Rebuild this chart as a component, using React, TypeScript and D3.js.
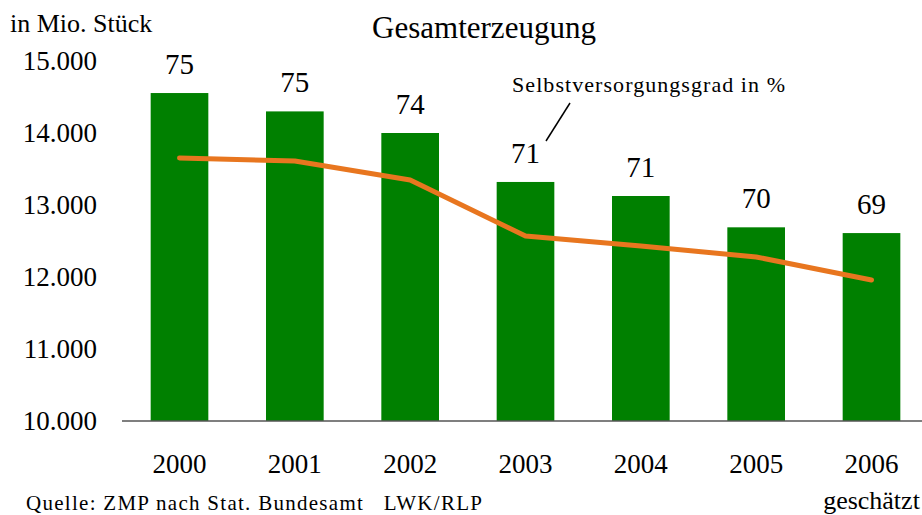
import * as d3 from "d3";

// Daten
const years = ["2000", "2001", "2002", "2003", "2004", "2005", "2006"];
const production = [14555, 14300, 14000, 13320, 13125, 12690, 12610]; // in Mio. Stück
const selfSufficiency = [75.15, 75.0, 74.05, 71.25, 70.75, 70.2, 69.05]; // in %
const yTicks = [10000, 11000, 12000, 13000, 14000, 15000];

const W = 922;
const H = 515;
const FONT = "'Liberation Serif', 'Times New Roman', serif";

export default function App() {
  const x = d3.scaleBand<string>().domain(years).range([93, 958]).padding(0.5);
  const y = d3.scaleLinear().domain([10000, 15000]).range([421, 61]);
  // versteckte Sekundärachse für den Selbstversorgungsgrad
  const y2 = d3.scaleLinear().domain([62, 80]).range([421, 61]);

  const fmt = (v: number) => d3.format(",")(v).replace(/,/g, ".");
  const cx = (d: string) => (x(d) || 0) + x.bandwidth() / 2;

  const line = d3
    .line<number>()
    .x((_, i) => cx(years[i]))
    .y((d) => y2(d));

  return (
    <svg
      width={W}
      height={H}
      style={{ position: "absolute", left: 0, top: 0, background: "#fff" }}
      fontFamily={FONT}
    >
      <text x={10} y={32} fontSize={26} fill="#000">
        in Mio. Stück
      </text>
      <text x={484} y={38} fontSize={31} textAnchor="middle" fill="#000">
        Gesamterzeugung
      </text>

      {/* Y-Achse Beschriftung */}
      {yTicks.map((t) => (
        <text
          key={t}
          x={97}
          y={y(t)}
          dy="0.35em"
          fontSize={27}
          textAnchor="end"
          fill="#000"
        >
          {fmt(t)}
        </text>
      ))}

      {/* Balken */}
      {years.map((yr, i) => (
        <rect
          key={yr}
          x={x(yr)}
          y={y(production[i])}
          width={x.bandwidth()}
          height={y(10000) - y(production[i])}
          fill="#008000"
        />
      ))}

      {/* X-Achse */}
      <line x1={122} x2={W} y1={y(10000)} y2={y(10000)} stroke="#555" strokeWidth={1.5} />
      {years.map((yr) => (
        <text key={yr} x={cx(yr)} y={473} fontSize={27} textAnchor="middle" fill="#000">
          {yr}
        </text>
      ))}
      <text x={cx("2006")} y={509} fontSize={26} textAnchor="middle" fill="#000">
        geschätzt
      </text>

      {/* Selbstversorgungsgrad */}
      <path
        d={line(selfSufficiency) || ""}
        fill="none"
        stroke="#e8761f"
        strokeWidth={5}
        strokeLinecap="round"
        strokeLinejoin="round"
      />
      {years.map((yr, i) => (
        <text
          key={yr}
          x={cx(yr)}
          y={y(production[i]) - 19}
          fontSize={29}
          textAnchor="middle"
          fill="#000"
        >
          {d3.format(".0f")(selfSufficiency[i])}
        </text>
      ))}

      <text x={512} y={92} fontSize={22} textLength={273} lengthAdjust="spacing" fill="#000">
        Selbstversorgungsgrad in %
      </text>
      <line x1={570} y1={103} x2={546} y2={141} stroke="#000" strokeWidth={1.5} />

      <text
        x={26}
        y={510}
        fontSize={21}
        textLength={456}
        lengthAdjust="spacing"
        fill="#000"
        style={{ whiteSpace: "pre" }}
      >
        {"Quelle: ZMP nach Stat. Bundesamt   LWK/RLP"}
      </text>
    </svg>
  );
}
